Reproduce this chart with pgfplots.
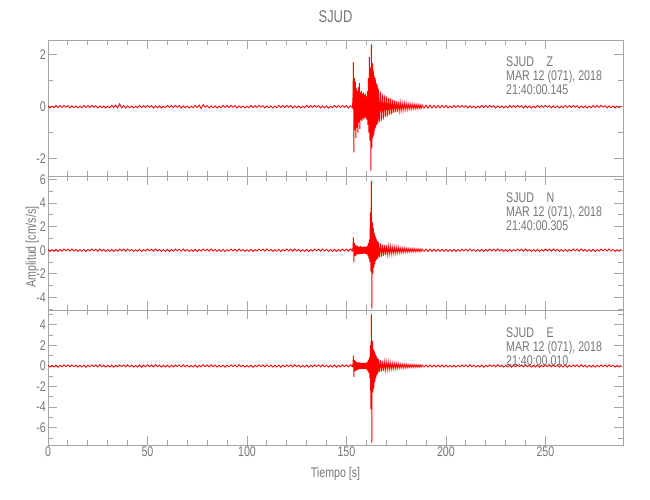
\documentclass[border=0pt]{standalone}
\usepackage{fontspec}
\usepackage{pgfplots}
\usepackage{pgfplotstable}
\pgfplotsset{compat=1.18}
\newfontfamily\idlfont{Liberation Sans}[FakeStretch=0.76]
\definecolor{idltext}{RGB}{118,118,118}
\definecolor{idlaxis}{RGB}{165,165,165}

% tiempo [s], componentes Z, N, E [cm/s/s]
\pgfplotstableread{
t z n e
0 0.03 0.07 0.08
1 -0.05 -0.1 -0.11
2 0.02 0.05 0.06
3 -0.04 -0.09 -0.1
4 0.05 0.08 0.09
5 -0.03 -0.11 -0.12
6 0.04 0.06 0.07
7 -0.03 -0.07 -0.08
8 0.05 0.1 0.11
9 -0.02 -0.05 -0.06
10 0.04 0.09 0.1
11 -0.05 -0.08 -0.09
12 0.03 0.11 0.12
13 -0.04 -0.06 -0.07
14 0.03 0.07 0.08
15 -0.05 -0.1 -0.11
16 0.02 0.05 0.06
17 -0.04 -0.09 -0.1
18 0.05 0.08 0.09
19 -0.03 -0.11 -0.12
20 0.04 0.06 0.07
21 -0.03 -0.07 -0.08
22 0.05 0.1 0.11
23 -0.02 -0.05 -0.06
24 0.04 0.09 0.1
25 -0.05 -0.08 -0.09
26 0.03 0.11 0.12
27 -0.04 -0.06 -0.07
28 0.03 0.07 0.08
29 -0.05 -0.1 -0.11
30 0.02 0.05 0.06
31 -0.04 -0.09 -0.1
32 0.05 0.08 0.09
33 -0.03 -0.11 -0.12
34 0.06 0.06 0.07
35 -0.05 -0.07 -0.08
36 0.11 0.1 0.11
37 -0.05 -0.05 -0.06
38 0.04 0.09 0.1
39 -0.05 -0.08 -0.09
40 0.03 0.11 0.12
41 -0.04 -0.06 -0.07
42 0.03 0.07 0.08
43 -0.05 -0.1 -0.11
44 0.02 0.05 0.06
45 -0.04 -0.09 -0.1
46 0.05 0.08 0.09
47 -0.03 -0.11 -0.12
48 0.04 0.06 0.07
49 -0.03 -0.07 -0.08
50 0.05 0.1 0.11
51 -0.02 -0.05 -0.06
52 0.04 0.09 0.1
53 -0.05 -0.08 -0.09
54 0.03 0.11 0.12
55 -0.04 -0.06 -0.07
56 0.03 0.07 0.08
57 -0.05 -0.1 -0.11
58 0.02 0.05 0.06
59 -0.04 -0.09 -0.1
60 0.05 0.08 0.09
61 -0.03 -0.11 -0.12
62 0.04 0.06 0.07
63 -0.03 -0.07 -0.08
64 0.05 0.1 0.11
65 -0.02 -0.05 -0.06
66 0.04 0.09 0.1
67 -0.05 -0.08 -0.09
68 0.03 0.11 0.12
69 -0.04 -0.06 -0.07
70 0.03 0.07 0.08
71 -0.05 -0.1 -0.11
72 0.02 0.05 0.06
73 -0.04 -0.09 -0.1
74 0.05 0.08 0.09
75 -0.03 -0.11 -0.12
76 0.06 0.06 0.07
77 -0.07 -0.07 -0.08
78 0.08 0.1 0.11
79 -0.02 -0.05 -0.06
80 0.04 0.09 0.1
81 -0.05 -0.08 -0.09
82 0.03 0.11 0.12
83 -0.04 -0.06 -0.07
84 0.03 0.07 0.08
85 -0.05 -0.1 -0.11
86 0.02 0.05 0.06
87 -0.04 -0.09 -0.1
88 0.05 0.08 0.09
89 -0.03 -0.11 -0.12
90 0.04 0.06 0.07
91 -0.03 -0.07 -0.08
92 0.05 0.1 0.11
93 -0.02 -0.05 -0.06
94 0.04 0.09 0.1
95 -0.05 -0.08 -0.09
96 0.03 0.11 0.12
97 -0.04 -0.06 -0.07
98 0.03 0.07 0.08
99 -0.05 -0.1 -0.11
100 0.02 0.05 0.06
101 -0.04 -0.09 -0.1
102 0.05 0.08 0.09
103 -0.03 -0.11 -0.12
104 0.04 0.06 0.07
105 -0.03 -0.07 -0.08
106 0.05 0.1 0.11
107 -0.02 -0.05 -0.06
108 0.04 0.09 0.1
109 -0.05 -0.08 -0.09
110 0.03 0.11 0.12
111 -0.04 -0.06 -0.07
112 0.03 0.07 0.08
113 -0.05 -0.1 -0.11
114 0.02 0.05 0.06
115 -0.04 -0.09 -0.1
116 0.05 0.08 0.09
117 -0.03 -0.11 -0.12
118 0.04 0.06 0.07
119 -0.03 -0.07 -0.08
120 0.05 0.1 0.11
121 -0.02 -0.05 -0.06
122 0.04 0.09 0.1
123 -0.05 -0.08 -0.09
124 0.03 0.11 0.12
125 -0.04 -0.06 -0.07
126 0.03 0.07 0.08
127 -0.05 -0.1 -0.11
128 0.02 0.05 0.06
129 -0.04 -0.09 -0.1
130 0.05 0.08 0.09
131 -0.03 -0.11 -0.12
132 0.04 0.06 0.07
133 -0.03 -0.07 -0.08
134 0.05 0.1 0.11
135 -0.02 -0.05 -0.06
136 0.04 0.09 0.1
137 -0.05 -0.08 -0.09
138 0.03 0.11 0.12
139 -0.04 -0.06 -0.07
140 0.03 0.07 0.08
141 -0.05 -0.1 -0.11
142 0.02 0.05 0.06
143 -0.04 -0.09 -0.1
144 0.05 0.08 0.09
145 -0.03 -0.11 -0.12
146 0.04 0.06 0.07
147 -0.03 -0.07 -0.08
148 0.05 0.1 0.11
149 -0.02 -0.05 -0.06
150 0.04 0.09 0.1
151 -0.05 -0.08 -0.09
152 0.03 0.11 0.12
153 -0.04 -0.06 -0.07
153.25 0.3 0.2 0.2
153.5 1.7 1.1 1.0
153.75 -1.75 -1.0 -1.05
154.0 1.1 0.6 0.6
154.25 -0.9 -0.5 -0.55
154.5 0.95 0.45 0.5
154.75 -1.2 -0.45 -0.45
155.0 0.7 0.4 0.4
155.25 -0.8 -0.35 -0.4
155.5 0.6 0.4 0.35
155.75 -1.0 -0.35 -0.4
156.0 0.75 0.3 0.35
156.25 -0.6 -0.35 -0.3
156.5 0.9 0.3 0.35
156.75 -0.85 -0.3 -0.3
157.0 0.55 0.35 0.3
157.25 -0.5 -0.3 -0.3
157.5 0.6 0.3 0.3
157.75 -0.55 -0.3 -0.28
158.0 0.5 0.28 0.3
158.25 -0.45 -0.3 -0.3
158.5 0.55 0.3 0.28
158.75 -0.5 -0.25 -0.3
159.0 0.45 0.3 0.3
159.25 -0.4 -0.3 -0.28
159.5 0.5 0.28 0.3
159.75 -0.45 -0.3 -0.3
160.0 0.4 0.3 0.32
160.25 -0.5 -0.35 -0.35
160.5 0.6 0.4 0.4
160.75 -0.7 -0.45 -0.5
161.0 1.1 0.6 0.6
161.25 -1.0 -0.7 -0.7
161.5 1.9 0.9 0.8
161.75 -1.3 -1.0 -1.2
162.0 1.5 3.2 2.0
162.25 -2.45 -1.8 -4.2
162.5 2.4 5.9 5.1
162.75 -1.6 -4.95 -7.5
163.0 1.7 2.4 2.5
163.25 -1.2 -2.0 -2.6
163.5 1.4 1.9 1.7
163.75 -1.1 -1.5 -2.2
164.0 1.2 1.5 1.5
164.25 -0.9 -1.2 -1.6
164.5 1.1 1.2 1.2
164.75 -0.8 -0.9 -1.2
165.0 0.9 1.0 1.0
165.25 -0.7 -0.8 -0.9
165.5 0.85 0.8 0.8
165.75 -0.65 -0.7 -0.75
166 0.7 0.7 0.7
166.5 -0.6 -0.6 -0.6
167 0.6 0.6 0.6
167.5 -0.55 -0.55 -0.55
168 0.5 0.5 0.5
168.5 -0.5 -0.5 -0.5
169 0.45 0.45 0.45
169.5 -0.4 -0.42 -0.42
170 0.4 0.45 0.42
170.5 -0.38 -0.4 -0.38
171 0.35 0.38 0.38
171.5 -0.32 -0.35 -0.35
172 0.33 0.35 0.35
172.5 -0.3 -0.32 -0.32
173 0.28 0.3 0.3
173.5 -0.25 -0.3 -0.3
174 0.25 0.28 0.28
174.5 -0.22 -0.28 -0.28
175 0.22 0.27 0.27
175.5 -0.2 -0.25 -0.25
176 0.2 0.25 0.25
176.5 -0.18 -0.23 -0.23
177 0.18 0.22 0.22
177.5 -0.16 -0.22 -0.2
178 0.15 0.2 0.2
178.5 -0.14 -0.2 -0.2
179 0.15 0.2 0.18
179.5 -0.12 -0.18 -0.18
180 0.13 0.18 0.18
180.5 -0.12 -0.17 -0.17
181 0.12 0.17 0.16
181.5 -0.1 -0.16 -0.16
182 0.11 0.15 0.15
182.5 -0.1 -0.15 -0.15
183 0.1 0.15 0.15
183.5 -0.09 -0.14 -0.14
184 0.1 0.14 0.14
184.5 -0.09 -0.13 -0.13
185 0.09 0.13 0.13
185.5 -0.08 -0.12 -0.13
186 0.08 0.12 0.12
186.5 -0.07 -0.12 -0.12
187 0.08 0.11 0.12
187.5 -0.07 -0.11 -0.11
188 0.07 0.11 0.11
189 -0.06 -0.1 -0.11
190 0.06 0.1 0.11
191 -0.06 -0.1 -0.1
192 0.06 0.1 0.1
193 -0.05 -0.1 -0.1
194 0.05 0.1 0.1
195 -0.05 -0.09 -0.1
196 0.05 0.09 0.1
197 -0.05 -0.09 -0.1
198 0.05 0.09 0.1
199 -0.04 -0.09 -0.1
200 0.05 0.09 0.1
201 -0.05 -0.1 -0.11
202 0.02 0.05 0.06
203 -0.04 -0.09 -0.1
204 0.05 0.08 0.09
205 -0.03 -0.11 -0.12
206 0.04 0.06 0.07
207 -0.03 -0.07 -0.08
208 0.05 0.1 0.11
209 -0.02 -0.05 -0.06
210 0.04 0.09 0.1
211 -0.05 -0.08 -0.09
212 0.03 0.11 0.12
213 -0.04 -0.06 -0.07
214 0.03 0.07 0.08
215 -0.05 -0.1 -0.11
216 0.02 0.05 0.06
217 -0.04 -0.09 -0.1
218 0.05 0.08 0.09
219 -0.03 -0.11 -0.12
220 0.04 0.06 0.07
221 -0.03 -0.07 -0.08
222 0.05 0.1 0.11
223 -0.02 -0.05 -0.06
224 0.04 0.09 0.1
225 -0.05 -0.08 -0.09
226 0.03 0.11 0.12
227 -0.04 -0.06 -0.07
228 0.03 0.07 0.08
229 -0.05 -0.1 -0.11
230 0.02 0.05 0.06
231 -0.04 -0.09 -0.1
232 0.05 0.08 0.09
233 -0.03 -0.11 -0.12
234 0.04 0.06 0.07
235 -0.03 -0.07 -0.08
236 0.05 0.1 0.11
237 -0.02 -0.05 -0.06
238 0.04 0.09 0.1
239 -0.05 -0.08 -0.09
240 0.03 0.11 0.12
241 -0.04 -0.06 -0.07
242 0.03 0.07 0.08
243 -0.05 -0.1 -0.11
244 0.02 0.05 0.06
245 -0.04 -0.09 -0.1
246 0.05 0.08 0.09
247 -0.03 -0.11 -0.12
248 0.04 0.06 0.07
249 -0.03 -0.07 -0.08
250 0.05 0.1 0.11
251 -0.02 -0.05 -0.06
252 0.04 0.09 0.1
253 -0.05 -0.08 -0.09
254 0.03 0.11 0.12
255 -0.04 -0.06 -0.07
256 0.03 0.07 0.08
257 -0.05 -0.1 -0.11
258 0.02 0.05 0.06
259 -0.04 -0.09 -0.1
260 0.05 0.08 0.09
261 -0.03 -0.11 -0.12
262 0.04 0.06 0.07
263 -0.03 -0.07 -0.08
264 0.05 0.1 0.11
265 -0.02 -0.05 -0.06
266 0.04 0.09 0.1
267 -0.05 -0.08 -0.09
268 0.03 0.11 0.12
269 -0.04 -0.06 -0.07
270 0.03 0.07 0.08
271 -0.05 -0.1 -0.11
272 0.02 0.05 0.06
273 -0.04 -0.09 -0.1
274 0.05 0.08 0.09
275 -0.03 -0.11 -0.12
276 0.04 0.06 0.07
277 -0.03 -0.07 -0.08
278 0.05 0.1 0.11
279 -0.02 -0.05 -0.06
280 0.04 0.09 0.1
281 -0.05 -0.08 -0.09
282 0.03 0.11 0.12
283 -0.04 -0.06 -0.07
284 0.03 0.07 0.08
285 -0.05 -0.1 -0.11
286 0.02 0.05 0.06
287 -0.04 -0.09 -0.1
288 0.03 0.08 0.07
}\sjud

\newcommand{\txtfont}{\idlfont\fontsize{14pt}{14pt}\selectfont}

\pgfplotsset{
  sismo/.style={
    scale only axis, width=575pt, anchor=south west,
    xmin=0, xmax=289,
    xtick={0,50,...,250}, minor x tick num=4,
    axis line style={idlaxis, line width=0.8pt},
    every tick/.style={idlaxis, line width=0.8pt},
    major tick length=9pt, minor tick length=5pt,
    tick label style={font=\txtfont, text=idltext},
    xticklabel style={inner sep=2pt},
    yticklabel style={inner sep=2pt},
    /pgf/number format/assume math mode=true,
  },
  traza/.style={red, line width=0.85pt},
}

% tres lineas de cabecera de cada componente
\newcommand{\cabecera}[2]{%
  \node[anchor=base west, inner sep=0pt, font=\txtfont, text=idltext, yshift=-27pt]
    at (rel axis cs:0.7965,1) {SJUD\hspace{0.9em}#1};
  \node[anchor=base west, inner sep=0pt, font=\txtfont, text=idltext, yshift=-41pt]
    at (rel axis cs:0.7965,1) {MAR 12 (071), 2018};
  \node[anchor=base west, inner sep=0pt, font=\txtfont, text=idltext, yshift=-55pt]
    at (rel axis cs:0.7965,1) {21:40:00.#2};
}

\begin{document}
\begin{tikzpicture}
\path[use as bounding box] (0,0) rectangle (650pt,500pt);

\begin{axis}[sismo, at={(48pt,324pt)}, height=136pt,
    ymin=-2.66, ymax=2.56, ytick={-2,0,2}, minor ytick={-1,1},
    xticklabels={},
    title={SJUD},
    title style={at={(axis description cs:0.5,1)}, anchor=base, yshift=11pt,
      font=\idlfont\fontsize{17pt}{17pt}\selectfont, text=idltext}]
  \addplot[traza] table[x=t, y=z] {\sjud};
  \cabecera{Z}{145}
\end{axis}

\begin{axis}[sismo, at={(48pt,190pt)}, height=134pt,
    ymin=-5.07, ymax=6.3, ytick={-4,-2,...,6}, minor ytick={-5,-3,...,5},
    xticklabels={},
    ylabel={Amplitud [cm/s/s]},
    ylabel style={at={(axis description cs:-0.0209,0.47)}, anchor=base,
      font=\txtfont, text=idltext}]
  \addplot[traza] table[x=t, y=n] {\sjud};
  \cabecera{N}{305}
\end{axis}

\begin{axis}[sismo, at={(48pt,55pt)}, height=135pt,
    ymin=-7.69, ymax=5.45, ytick={-6,-4,...,4}, minor ytick={-7,-5,...,5},
    xlabel={Tiempo [s]},
    xlabel style={at={(axis description cs:0.5,0)}, anchor=base, yshift=-32pt,
      font=\txtfont, text=idltext}]
  \addplot[traza] table[x=t, y=e] {\sjud};
  \cabecera{E}{010}
\end{axis}
\end{tikzpicture}
\end{document}
